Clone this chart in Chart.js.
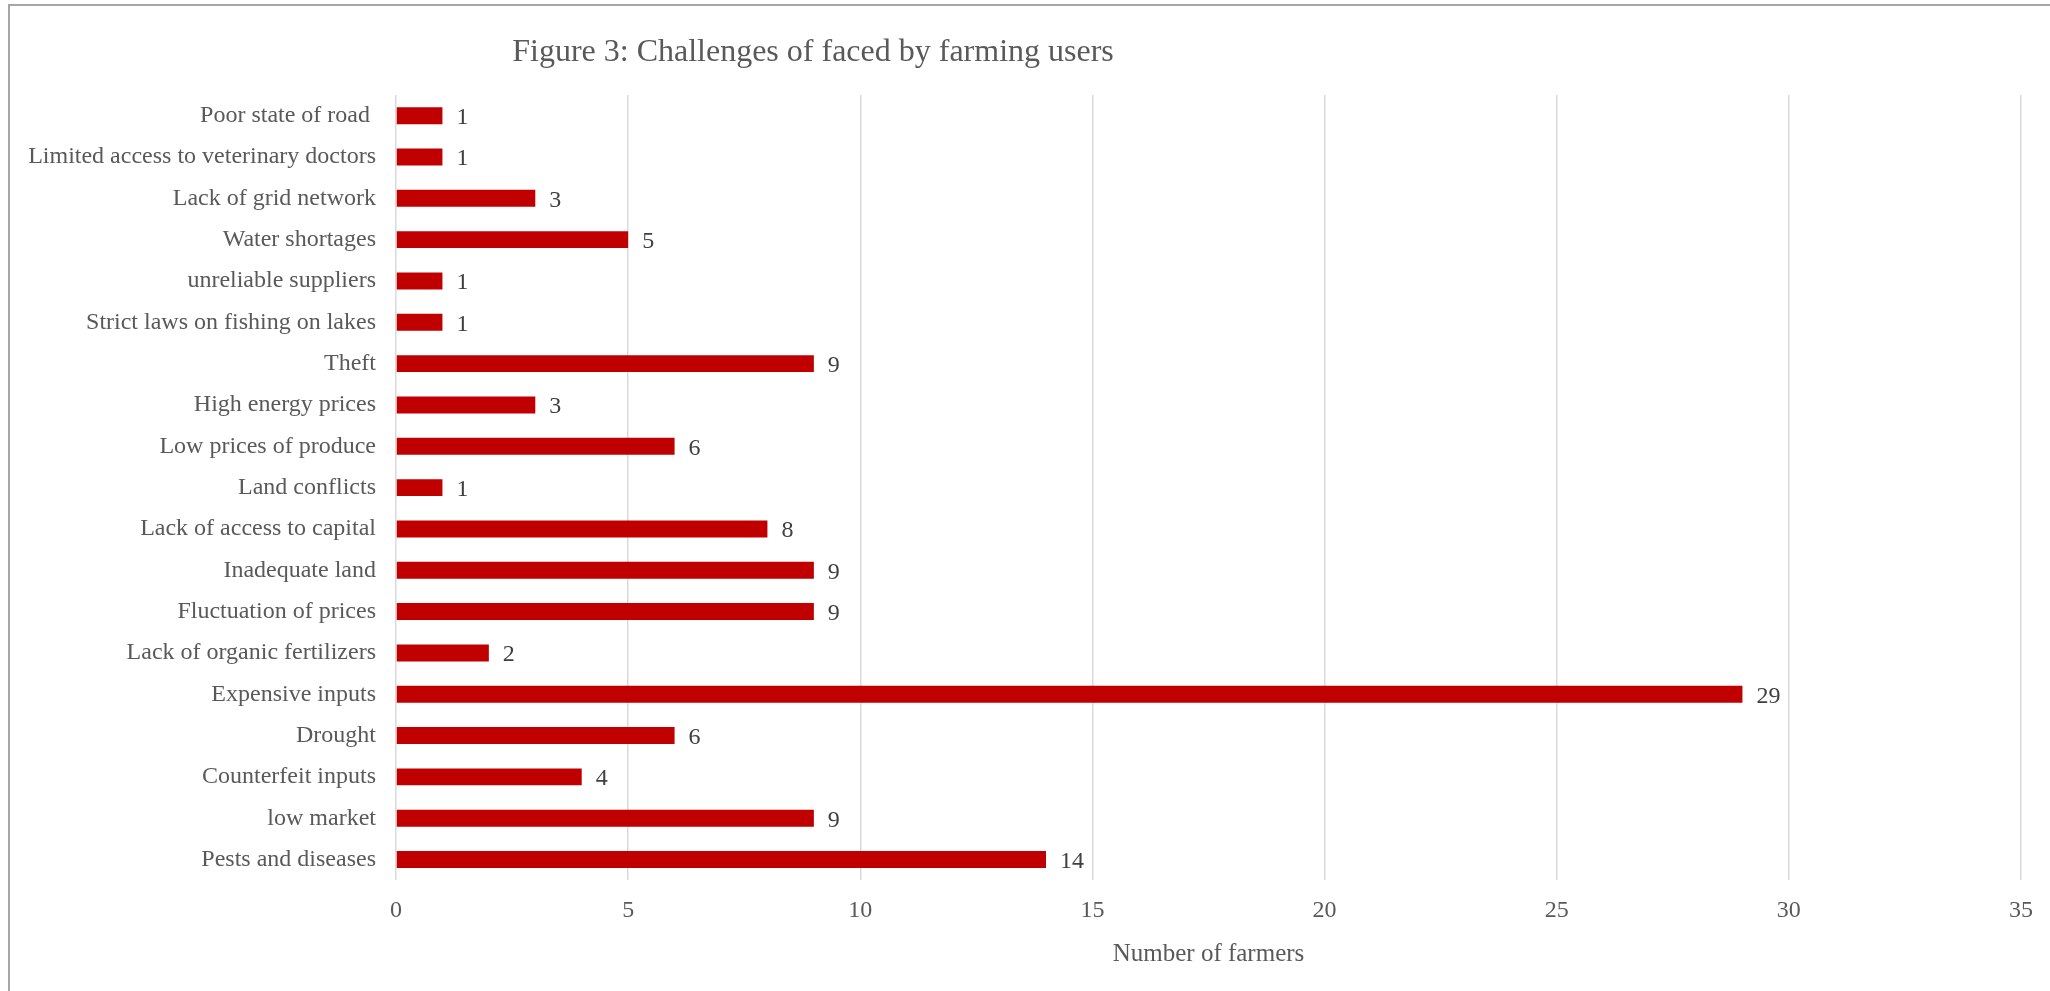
<!DOCTYPE html>
<html>
<head>
<meta charset="utf-8">
<script src="https://cdn.jsdelivr.net/npm/chart.js@4.4.1/dist/chart.umd.min.js"></script>
<style>
  html, body { margin: 0; padding: 0; background: #fff; }
  #wrap { position: relative; width: 2050px; height: 991px; overflow: hidden; }
  #frame { position: absolute; left: 8px; top: 4px; width: 2200px; height: 1200px;
           border-top: 2px solid #a6a6a6; border-left: 2px solid #a6a6a6; pointer-events: none; }
</style>
</head>
<body>
<div id="wrap">
  <canvas id="challengesChart"></canvas>
  <div id="frame"></div>
</div>
<script>
const challenges = [
    'Poor state of road ',
    'Limited access to veterinary doctors',
    'Lack of grid network',
    'Water shortages',
    'unreliable suppliers',
    'Strict laws on fishing on lakes',
    'Theft',
    'High energy prices',
    'Low prices of produce',
    'Land conflicts',
    'Lack of access to capital',
    'Inadequate land',
    'Fluctuation of prices',
    'Lack of organic fertilizers',
    'Expensive inputs',
    'Drought',
    'Counterfeit inputs',
    'low market',
    'Pests and diseases'
];
const farmerCounts = [1, 1, 3, 5, 1, 1, 9, 3, 6, 1, 8, 9, 9, 2, 29, 6, 4, 9, 14];
const xTicks = [0, 5, 10, 15, 20, 25, 30, 35];

const chartTitle = 'Figure 3: Challenges of faced by farming users';
const axisTitle = 'Number of farmers';

const FONT = '"Liberation Serif", "Times New Roman", serif';

// value labels at the end of each bar
const barLabels = {
    id: 'barLabels',
    afterDatasetsDraw(chart) {
        const ctx = chart.ctx;
        const meta = chart.getDatasetMeta(0);
        ctx.save();
        ctx.font = '24px ' + FONT;
        ctx.fillStyle = '#404040';
        ctx.textAlign = 'left';
        ctx.textBaseline = 'middle';
        meta.data.forEach((bar, i) => {
            ctx.fillText(String(farmerCounts[i]), bar.x + 14, bar.y + 2);
        });
        ctx.restore();
    }
};

// title sits off-centre, as in the original figure
const offsetTitle = {
    id: 'offsetTitle',
    afterDraw(chart) {
        const ctx = chart.ctx;
        ctx.save();
        ctx.font = '32px ' + FONT;
        ctx.fillStyle = '#595959';
        ctx.textAlign = 'center';
        ctx.textBaseline = 'middle';
        ctx.fillText(chartTitle, 813, 53);
        ctx.restore();
    }
};

const ctx = document.getElementById('challengesChart').getContext('2d');
new Chart(ctx, {
    type: 'bar',
    data: {
        labels: challenges,
        datasets: [{
            label: axisTitle,
            data: farmerCounts,
            backgroundColor: '#c00000',
            categoryPercentage: 1,
            barPercentage: 0.41
        }]
    },
    options: {
        indexAxis: 'y',
        responsive: true,
        maintainAspectRatio: false,
        animation: false,
        layout: {
            padding: { top: 95, right: 29, bottom: 22, left: 0 }
        },
        plugins: {
            legend: { display: false },
            tooltip: { enabled: false },
            title: { display: false }
        },
        scales: {
            x: {
                min: 0,
                max: 35,
                afterBuildTicks(scale) {
                    scale.ticks = xTicks.map(v => ({ value: v }));
                },
                grid: { color: '#d9d9d9', lineWidth: 1.5, drawTicks: false },
                border: { display: false },
                ticks: {
                    padding: 16,
                    color: '#595959',
                    font: { family: FONT, size: 24 }
                },
                title: {
                    display: true,
                    text: axisTitle,
                    color: '#595959',
                    padding: { top: -2, bottom: 0 },
                    font: { family: FONT, size: 25 }
                }
            },
            y: {
                afterFit(scale) { scale.width = 396; },
                grid: { display: false, drawTicks: false },
                border: { display: false },
                ticks: {
                    padding: 20,
                    autoSkip: false,
                    color: '#595959',
                    font: { family: FONT, size: 24 }
                }
            }
        }
    },
    plugins: [barLabels, offsetTitle]
});
</script>
</body>
</html>
